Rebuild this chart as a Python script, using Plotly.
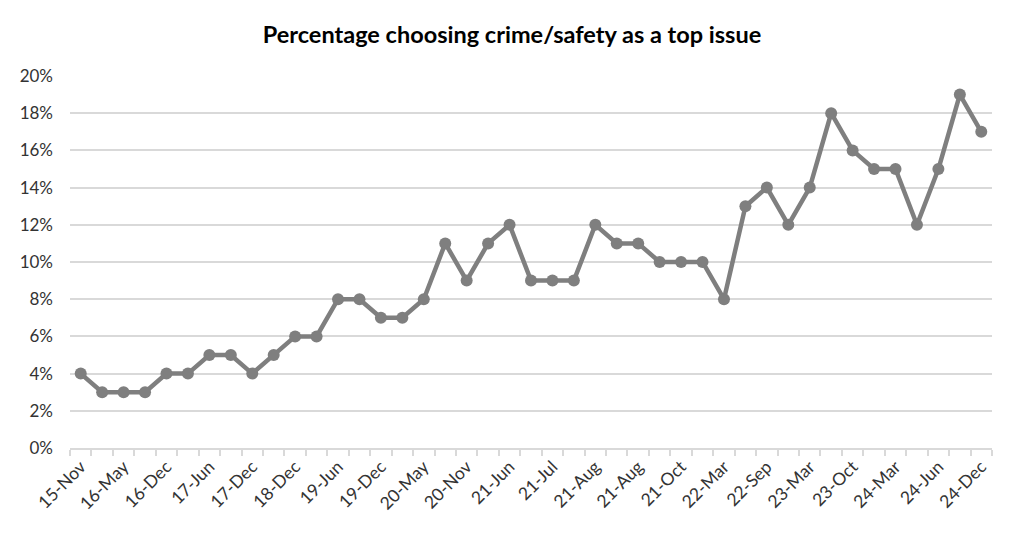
import plotly.graph_objects as go

labels = ["15-Nov", "16-May", "16-Dec", "17-Jun", "17-Dec", "18-Dec", "19-Jun", "19-Dec",
          "20-May", "20-Nov", "21-Jun", "21-Jul", "21-Aug", "21-Aug", "21-Oct", "22-Mar",
          "22-Sep", "23-Mar", "23-Oct", "24-Mar", "24-Jun", "24-Dec"]
values_pct = [4, 3, 3, 3, 4, 4, 5, 5, 4, 5, 6, 6, 8, 8, 7, 7, 8, 11, 9, 11, 12, 9, 9, 9,
              12, 11, 11, 10, 10, 10, 8, 13, 14, 12, 14, 18, 16, 15, 15, 12, 15, 19, 17]

n = len(values_pct)
xs = list(range(n))
ys = [v / 100 for v in values_pct]

FONT = "Lato"
TXT = "#333333"

fig = go.Figure()
fig.add_trace(go.Scatter(
    x=xs, y=ys, mode="lines+markers",
    line=dict(color="#7f7f7f", width=4.5),
    marker=dict(color="#7f7f7f", size=12),
    cliponaxis=False,
    hoverinfo="skip",
))

fig.update_layout(
    width=1024, height=539,
    margin=dict(l=70, r=32, t=76, b=91),
    paper_bgcolor="white", plot_bgcolor="white",
    showlegend=False,
    title=dict(text="<b>Percentage choosing crime/safety as a top issue</b>",
               x=0.5, xanchor="center", y=0.935, yanchor="middle",
               font=dict(family=FONT, size=23.5, color="#000000")),
    font=dict(family=FONT, size=17, color=TXT),
)

fig.update_xaxes(
    range=[-0.5, n - 0.5],
    tickmode="array",
    tickvals=xs[::2],
    ticktext=labels,
    tickangle=-45,
    ticks="",
    showgrid=False,
    showline=True, linecolor="#d9d9d9", linewidth=1.5,
    tickfont=dict(family=FONT, size=17.5, color=TXT),
    minor=dict(tickmode="array", tickvals=[i - 0.5 for i in range(n + 1)],
               ticks="outside", ticklen=6, tickcolor="#d9d9d9", tickwidth=1.5,
               showgrid=False),
    zeroline=False,
)

fig.update_yaxes(
    range=[0, 0.2],
    dtick=0.02,
    tickformat=".0%",
    showgrid=True, gridcolor="#d9d9d9", gridwidth=1.5,
    zeroline=False,
    ticks="",
    ticklabelstandoff=16,
    tickfont=dict(family=FONT, size=17, color=TXT),
)

fig.write_html("out.html")
